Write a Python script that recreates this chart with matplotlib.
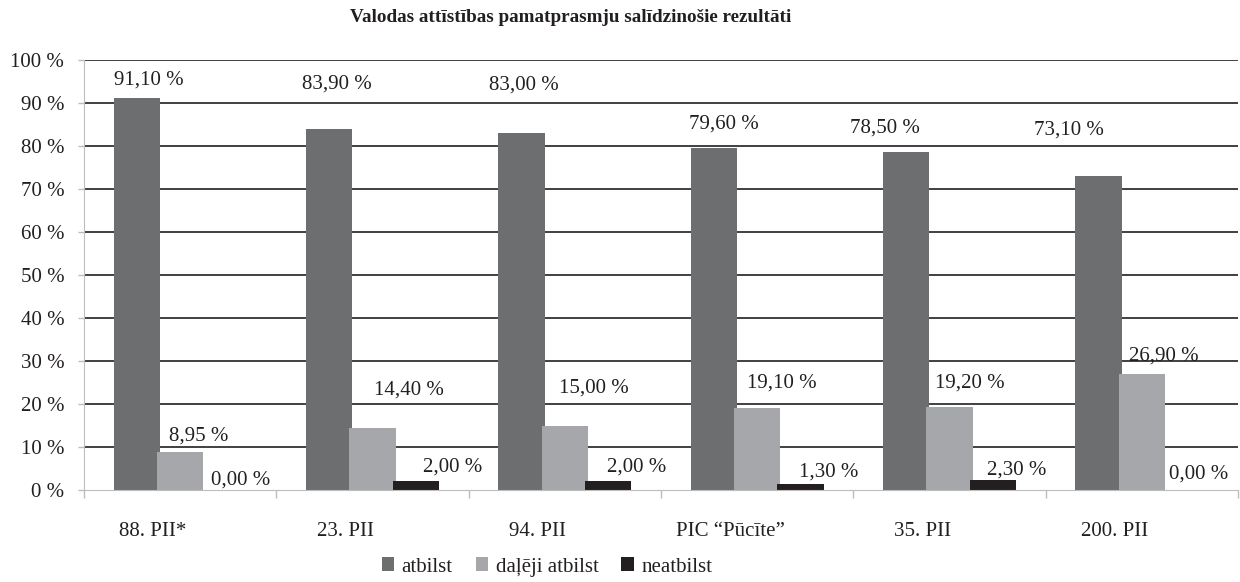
import matplotlib
matplotlib.use("Agg")
import matplotlib.pyplot as plt
import matplotlib.transforms as mtransforms
from matplotlib.patches import Patch
import numpy as np

categories = ["88. PII*", "23. PII", "94. PII", "PIC \u201cP\u016bc\u012bte\u201d", "35. PII", "200. PII"]
atbilst = [91.10, 83.90, 83.00, 79.60, 78.50, 73.10]
daleji = [8.95, 14.40, 15.00, 19.10, 19.20, 26.90]
neatbilst = [0.00, 2.00, 2.00, 1.30, 2.30, 0.00]
series_names = ["atbilst", "da\u013c\u0113ji atbilst", "neatbilst"]
title = "Valodas att\u012bst\u012bbas pamatprasmju sal\u012bdzino\u0161ie rezult\u0101ti"

# label placement (layout only): baseline height in axis units, horizontal shift in pixels
label_y = [[94.2, 93.3, 93.1, 84.0, 83.1, 82.6],
           [11.5, 22.2, 22.6, 23.8, 23.8, 30.2],
           [1.3, 4.3, 4.3, 3.1, 3.6, 2.7]]
label_dx = [[12, 8, 2, 10, -21, -30],
            [19, 36, 29, 25, 20, 22],
            [17, 37, 29, 28, 24, 14]]

colors = ["#6d6e70", "#a6a7aa", "#231f20"]
txt = "#231f20"

plt.rcParams['font.family'] = ['Liberation Serif', 'DejaVu Serif']

fig = plt.figure(figsize=(12.4, 5.82), dpi=100)
ax = fig.add_axes([84/1240, 1-490/582, (1238-84)/1240, 430/582])

x = np.arange(len(categories))
width = 0.24
step = 0.225
for i, (vals, c) in enumerate(zip([atbilst, daleji, neatbilst], colors)):
    pos = x + (i - 1) * step
    ax.bar(pos, vals, width=width, color=c, zorder=3)
    for j, (p, v) in enumerate(zip(pos, vals)):
        ax.annotate(f"{v:.2f} %".replace(".", ","), (p, label_y[i][j]),
                    xytext=(label_dx[i][j], 0), textcoords="offset pixels",
                    ha="center", va="baseline", fontsize=15, color=txt, zorder=4)

ax.set_xlim(-0.5, len(categories) - 0.5)
ax.set_ylim(0, 100)
ax.set_yticks(np.arange(0, 101, 10))
ax.set_yticklabels([f"{v} %" for v in range(0, 101, 10)], fontsize=15, color=txt)
for v in range(10, 101, 10):
    ax.axhline(v, color="#231f20", lw=1.2, zorder=1)
ax.tick_params(axis="y", length=4.3, color="#bdbdbd", width=1, pad=10)

ax.set_xticks(x)
ax.set_xticklabels(categories, fontsize=15, color=txt)
ax.tick_params(axis="x", length=0, pad=23)
offset = mtransforms.ScaledTranslation(-27/100, 0, fig.dpi_scale_trans)
for lab in ax.get_xticklabels():
    lab.set_transform(lab.get_transform() + offset)
ax.set_xticks(np.arange(-0.5, len(categories), 1.0), minor=True)
ax.tick_params(axis="x", which="minor", length=6, color="#bdbdbd", width=1)

for s in ["top", "right"]:
    ax.spines[s].set_visible(False)
ax.spines["left"].set_color("#bdbdbd")
ax.spines["bottom"].set_color("#bdbdbd")
ax.spines["bottom"].set_zorder(5)

fig.text(571/1240, 1-17/582, title, ha="center", va="center", fontsize=13.8,
         fontweight="bold", color=txt)

handles = [Patch(facecolor=c, edgecolor="none") for c in colors]
fig.legend(handles, series_names, loc="center", bbox_to_anchor=(547/1240, 1-567/582),
           ncol=3, frameon=False, fontsize=15, handlelength=0.6, handleheight=0.65,
           handletextpad=0.35, columnspacing=1.1, labelcolor=txt,
           borderpad=0, borderaxespad=0)

fig.savefig("out.png", dpi=100)
